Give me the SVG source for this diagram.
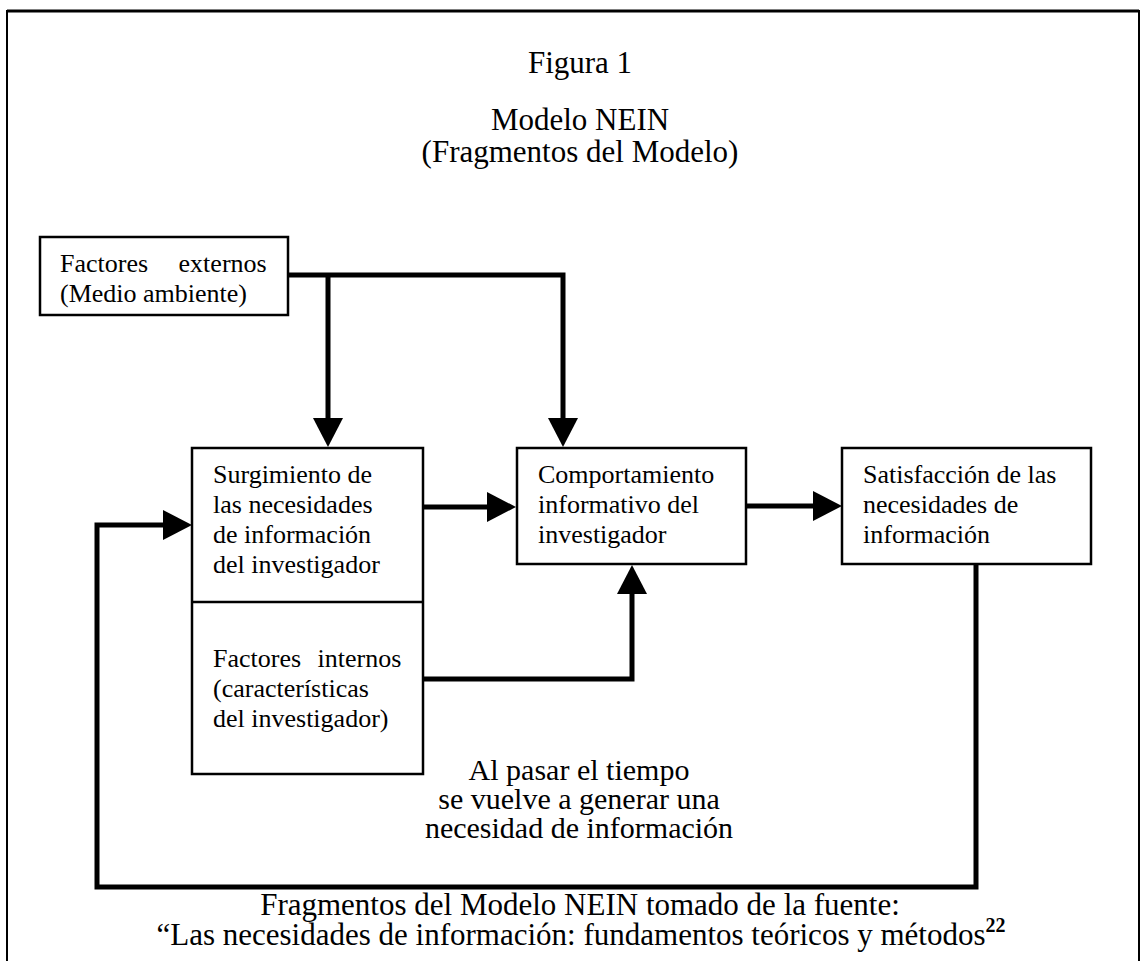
<svg xmlns="http://www.w3.org/2000/svg" width="1144" height="961" viewBox="0 0 1144 961">
<style>
  .bg{fill:#fff}
  .frame{fill:none;stroke:#000;stroke-width:2}
  .box{fill:#fff;stroke:#000;stroke-width:2.5}
  .conn{fill:none;stroke:#000;stroke-width:5;stroke-linejoin:miter;stroke-linecap:butt}
  .big{font-family:"Liberation Serif","Times New Roman",serif;font-size:31px;fill:#000}
  .mid{font-family:"Liberation Serif","Times New Roman",serif;font-size:30px;fill:#000}
  .lbl{font-family:"Liberation Serif","Times New Roman",serif;font-size:26px;fill:#000}
</style>
<defs>
  <marker id="ah" markerUnits="userSpaceOnUse" markerWidth="30" markerHeight="32" refX="0" refY="15" orient="auto" viewBox="0 0 30 30">
    <path d="M0,0 L29,15 L0,30 Z" fill="#000"/>
  </marker>
</defs>
<rect class="bg" x="0" y="0" width="1144" height="961"/>
<g id="frame">
  <path class="frame" d="M7,970 L7,11 L1139,11 L1139,970"/>
  <line x1="7" y1="11" x2="1139" y2="11" stroke="#000" stroke-width="3"/>
</g>
<g id="titles">
  <text class="big" x="580" y="73" text-anchor="middle">Figura 1</text>
  <text class="big" x="580" y="130" text-anchor="middle">Modelo NEIN</text>
  <text class="big" x="580" y="162" text-anchor="middle">(Fragmentos del Modelo)</text>
</g>
<g id="connectors">
  <path class="conn" d="M288,275 L563,275 L563,418" marker-end="url(#ah)"/>
  <path class="conn" d="M328,275 L328,418" marker-end="url(#ah)"/>
  <path class="conn" d="M423,507 L487,507" marker-end="url(#ah)"/>
  <path class="conn" d="M746,506 L813,506" marker-end="url(#ah)"/>
  <path class="conn" d="M288,621 L288,597" marker-end="url(#ah)"/>
  <path class="conn" d="M423,679 L632,679 L632,594" marker-end="url(#ah)"/>
  <path class="conn" d="M976,564 L976,887 L97,887 L97,525 L163,525" marker-end="url(#ah)"/>
</g>
<g id="n-externos">
  <rect class="box" x="40" y="237" width="248" height="78"/>
  <text class="lbl"><tspan x="60" y="272" word-spacing="24">Factores externos</tspan><tspan x="60" y="302">(Medio ambiente)</tspan></text>
</g>
<g id="n-surgimiento">
  <rect class="box" x="192" y="448" width="231" height="326"/>
  <line x1="192" y1="602" x2="423" y2="602" stroke="#000" stroke-width="2.5"/>
  <text class="lbl"><tspan x="213" y="483">Surgimiento de</tspan><tspan x="213" y="513">las necesidades</tspan><tspan x="213" y="543">de información</tspan><tspan x="213" y="573">del investigador</tspan></text>
</g>
<g id="n-internos">
  <text class="lbl"><tspan x="213" y="667" word-spacing="10">Factores internos</tspan><tspan x="213" y="697">(características</tspan><tspan x="213" y="727">del investigador)</tspan></text>
</g>
<g id="n-comportamiento">
  <rect class="box" x="517" y="448" width="229" height="116"/>
  <text class="lbl"><tspan x="538" y="483">Comportamiento</tspan><tspan x="538" y="513">informativo del</tspan><tspan x="538" y="543">investigador</tspan></text>
</g>
<g id="n-satisfaccion">
  <rect class="box" x="842" y="448" width="249" height="116"/>
  <text class="lbl"><tspan x="863" y="483">Satisfacción de las</tspan><tspan x="863" y="513">necesidades de</tspan><tspan x="863" y="543">información</tspan></text>
</g>
<g id="loop-label">
  <text class="mid" text-anchor="middle"><tspan x="579" y="780">Al pasar el tiempo</tspan><tspan x="579" y="809">se vuelve a generar una</tspan><tspan x="579" y="838">necesidad de información</tspan></text>
</g>
<g id="source">
  <text class="big" x="580" y="915" text-anchor="middle">Fragmentos del Modelo NEIN tomado de la fuente:</text>
  <text class="big" x="581" y="945" text-anchor="middle">“Las necesidades de información: fundamentos teóricos y métodos<tspan font-size="20" font-weight="bold" dy="-13">22</tspan></text>
</g>
</svg>
